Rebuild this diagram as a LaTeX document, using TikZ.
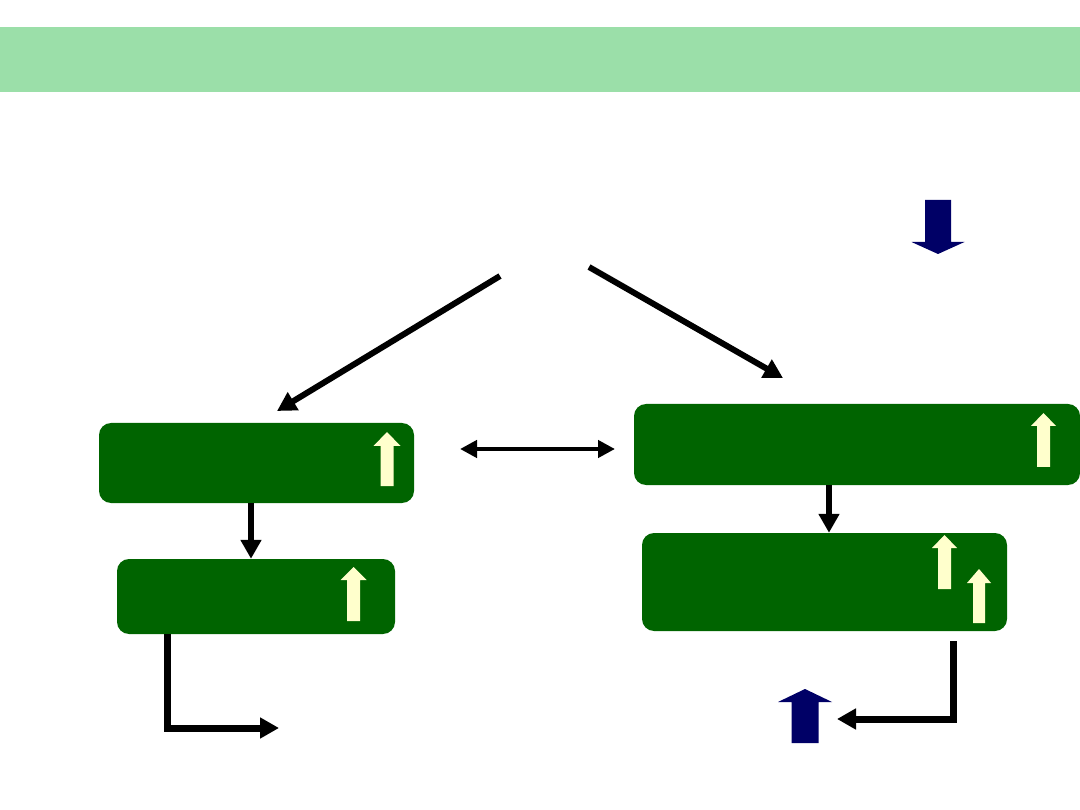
\documentclass[tikz,border=0pt]{standalone}
\usepackage{tikz}
\usetikzlibrary{arrows.meta, positioning, calc}
\usepackage{xcolor}
\definecolor{bannergreen}{RGB}{155, 223, 169}
\definecolor{boxgreen}{RGB}{0, 100, 0}
\definecolor{markcream}{RGB}{255, 255, 204}
\definecolor{deepnavy}{RGB}{0, 0, 102}

% block arrow: colour, x, tip y, head base y, tail y, shaft half, head half
\newcommand{\blockarr}[7]{%
  \fill[#1] (#2-#6,#5) -- (#2-#6,#4) -- (#2-#7,#4) -- (#2,#3)
    -- (#2+#7,#4) -- (#2+#6,#4) -- (#2+#6,#5) -- cycle;}

\begin{document}
\begin{tikzpicture}[
  x=1pt, y=-1pt,
  box/.style={fill=boxgreen, rounded corners=12pt, inner sep=0pt},
  arr/.style={-{Triangle[length=19pt,width=20pt]}, line width=6pt},
  dbl/.style={{Triangle[length=17pt,width=17pt]}-{Triangle[length=17pt,width=17pt]}, line width=4.5pt},
  elbow/.style={arr, line width=7pt, line join=miter}
]
\useasboundingbox (0,0) rectangle (1080,810);
\fill[bannergreen] (0,27) rectangle (1080,92);

\node[box, minimum width=315pt, minimum height=80pt] (A) at (256.5,463) {};
\node[box, minimum width=278pt, minimum height=75pt] (B) at (256,596.5) {};
\node[box, minimum width=446pt, minimum height=81pt] (C) at (857,444.5) {};
\node[box, minimum width=365pt, minimum height=98pt] (D) at (824.5,582) {};

\coordinate (topL) at (500,276);
\coordinate (topR) at (589,267);
\coordinate (toA) at (277,411);
\coordinate (toC) at (783,378);
\coordinate (midL) at (460,449);
\coordinate (midR) at (615,449);
\coordinate (outB) at (279,728);
\coordinate (outD) at (837,719);

\draw[arr] (topL) -- (toA);
\draw[arr] (topR) -- (toC);
\draw[dbl] (midL) -- (midR);
\draw[arr] ([xshift=-5.5pt]A.south) -- ([xshift=-5pt]B.north);
\draw[arr] ([xshift=-28pt]C.south) -- ([xshift=-28pt]C.south |- D.north);
\draw[elbow] ([xshift=-88.5pt]B.south) |- (outB);
\draw[elbow] ([xshift=128.5pt,yshift=-10pt]D.south) |- (outD);

% marks inside the boxes
\blockarr{markcream}{387}{432}{446}{486}{6.5}{13.5}
\blockarr{markcream}{353.5}{567}{580}{621}{6.5}{13}
\blockarr{markcream}{1043.5}{413}{426}{467}{6.5}{12.5}
\blockarr{markcream}{944.5}{535}{548}{589}{6.5}{12.5}
\blockarr{markcream}{979}{569}{583}{623}{6}{12}

% navy arrows
\blockarr{deepnavy}{938}{254}{242}{200}{13}{26.5}
\blockarr{deepnavy}{805}{689}{702}{743}{13.5}{27}
\end{tikzpicture}
\end{document}
